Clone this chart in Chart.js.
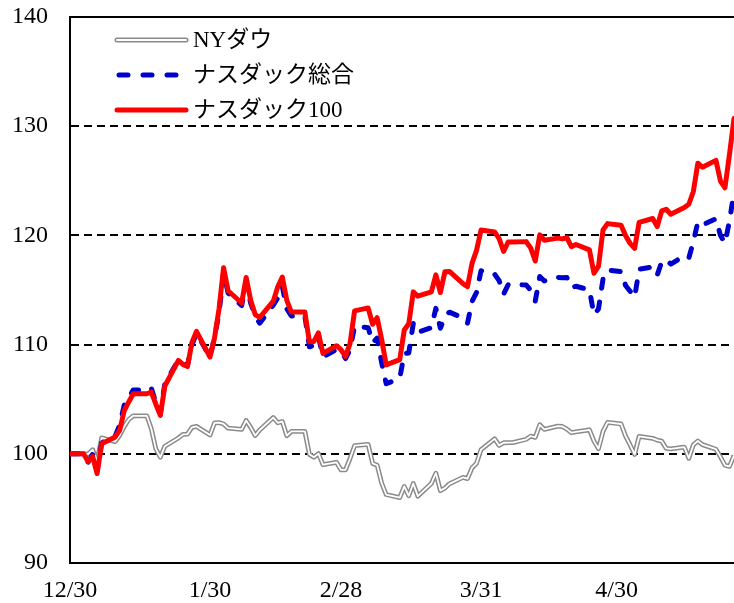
<!DOCTYPE html>
<html>
<head>
<meta charset="utf-8">
<script src="https://cdn.jsdelivr.net/npm/chart.js@4/dist/chart.umd.min.js"></script>
<style>
html,body{margin:0;padding:0;background:#fff;}
#wrap{width:734px;height:603px;position:relative;}
</style>
</head>
<body>
<div id="wrap"><canvas id="c" width="734" height="603"></canvas></div>
<script>
// ---- data ----
const seriesLabels = ["NYダウ", "ナスダック総合", "ナスダック100"];
const tickLabels = ["12/30", "1/30", "2/28", "3/31", "4/30"];
const yTicks = [90, 100, 110, 120, 130, 140];
const lastDate = "5/26";

const dates = ["12/30",
"1/2","1/3","1/4","1/5","1/6","1/9","1/10","1/11","1/12","1/13","1/16","1/17","1/18","1/19","1/20","1/23","1/24","1/25","1/26","1/27","1/30","1/31",
"2/1","2/2","2/3","2/6","2/7","2/8","2/9","2/10","2/13","2/14","2/15","2/16","2/17","2/20","2/21","2/22","2/23","2/24","2/27","2/28",
"3/1","3/2","3/3","3/6","3/7","3/8","3/9","3/10","3/13","3/14","3/15","3/16","3/17","3/20","3/21","3/22","3/23","3/24","3/27","3/28","3/29","3/30","3/31",
"4/3","4/4","4/5","4/6","4/7","4/10","4/11","4/12","4/13","4/14","4/17","4/18","4/19","4/20","4/21","4/24","4/25","4/26","4/27","4/28",
"5/1","5/2","5/3","5/4","5/5","5/8","5/9","5/10","5/11","5/12","5/15","5/16","5/17","5/18","5/19","5/22","5/23","5/24","5/25","5/26"];

const dow = [100,
100,99.97,100.37,99.34,101.46,101.12,101.68,102.49,103.14,103.48,103.48,102.30,100.45,99.69,100.69,101.45,101.77,101.80,102.42,102.51,101.72,102.83,
102.85,102.73,102.35,102.24,103.05,102.42,101.67,102.18,103.32,102.84,102.96,101.66,102.05,102.05,99.95,99.69,100.02,99.00,99.22,98.52,
98.54,99.57,100.74,100.86,99.12,98.95,97.31,96.27,95.99,97.01,96.16,97.28,96.12,97.28,98.23,96.63,96.86,97.25,97.84,97.73,98.70,99.13,100.38,
101.37,100.77,101.01,101.02,101.02,101.33,101.62,101.51,102.66,102.23,102.53,102.50,102.26,101.93,102.00,102.20,101.16,100.47,102.05,102.87,
102.73,101.62,100.81,99.94,101.59,101.42,101.25,101.16,100.49,100.46,100.61,99.59,100.82,101.17,100.84,100.42,99.72,98.95,98.85,99.84];

const nasdaqComp = [100,
100,99.24,99.93,98.46,100.98,101.61,102.64,104.44,105.11,105.85,105.85,106.01,104.69,103.69,106.44,108.58,108.29,108.09,109.99,111.04,108.86,110.68,
112.90,116.57,114.72,113.58,115.74,113.80,112.64,111.96,113.62,114.27,115.33,113.27,112.62,112.62,109.80,109.94,110.74,108.87,109.56,109.45,
108.72,109.52,111.68,111.55,110.17,110.60,108.33,106.42,106.90,109.19,109.24,111.95,111.12,111.55,113.32,111.50,112.62,112.97,112.44,111.94,113.95,114.78,116.77,
116.46,115.86,114.62,115.49,115.49,115.46,114.96,113.98,116.24,115.83,116.16,116.12,116.15,115.22,115.34,115.01,112.73,113.26,116.01,116.82,
116.68,115.42,114.89,114.33,116.90,117.11,116.37,117.58,117.79,117.37,118.14,117.93,119.43,121.23,120.94,121.53,120.01,119.28,121.32,123.97];

const nasdaq100 = [100,
100,99.29,99.77,98.19,100.92,101.54,102.16,103.94,104.75,105.50,105.50,105.65,104.54,103.52,106.21,108.55,108.18,107.99,110.20,111.21,108.86,110.62,
113.30,117.03,114.93,113.81,116.15,114.06,112.75,112.48,113.98,115.29,116.19,114.05,112.98,112.98,110.25,110.29,111.07,109.19,109.90,109.53,
108.92,110.11,113.09,113.36,111.86,112.46,110.47,108.14,108.63,111.34,111.91,114.83,114.44,114.83,116.39,114.77,116.67,116.70,115.59,115.31,117.44,118.63,120.49,
120.32,119.71,118.53,119.40,119.40,119.43,118.83,117.66,120.05,119.56,119.75,119.68,119.80,118.97,119.17,118.67,116.54,117.18,120.50,121.08,
120.92,119.98,119.27,118.81,121.20,121.55,120.80,122.25,122.39,121.94,122.55,122.85,124.02,126.61,126.24,126.87,124.98,124.36,127.42,130.70];

// ---- helpers ----
function dayOffset(md) {
  const [m, d] = md.split("/").map(Number);
  const year = (m === 12) ? 2022 : 2023;
  const base = Date.UTC(2022, 11, 30);
  return Math.round((Date.UTC(year, m - 1, d) - base) / 86400000);
}
function toPoints(arr) { return arr.map((v, i) => ({x: dayOffset(dates[i]), y: v})); }
const tickPos = tickLabels.map(dayOffset);

const FONT_FAMILY = '"Liberation Serif", "Noto Sans CJK JP", serif';
const COLORS = {dow: "#8a8a8a", comp: "#0000cc", ndx: "#ff0000"};

const framePlugin = {
  id: "frame",
  beforeDatasetsDraw(chart) {
    const {ctx, chartArea: a} = chart;
    ctx.save();
    ctx.strokeStyle = "#000";
    ctx.lineWidth = 2;
    ctx.beginPath();
    ctx.moveTo(a.left - 1, a.top);
    ctx.lineTo(a.right, a.top);
    ctx.stroke();
    ctx.restore();
  },
  afterDraw(chart) {
    const ctx = chart.ctx;
    const x1 = 117, x2 = 186, tx = 193;
    const ys = [40, 75, 110];
    ctx.save();
    ctx.lineCap = "round";
    // NY Dow double line
    ctx.strokeStyle = COLORS.dow; ctx.lineWidth = 5;
    ctx.beginPath(); ctx.moveTo(x1, ys[0]); ctx.lineTo(x2, ys[0]); ctx.stroke();
    ctx.strokeStyle = "#fff"; ctx.lineWidth = 2;
    ctx.beginPath(); ctx.moveTo(x1, ys[0]); ctx.lineTo(x2, ys[0]); ctx.stroke();
    // composite dashed
    ctx.strokeStyle = COLORS.comp; ctx.lineWidth = 5; ctx.setLineDash([9, 15]);
    ctx.beginPath(); ctx.moveTo(x1 + 2, ys[1]); ctx.lineTo(x2, ys[1]); ctx.stroke();
    ctx.setLineDash([]);
    // ndx solid
    ctx.strokeStyle = COLORS.ndx; ctx.lineWidth = 5;
    ctx.beginPath(); ctx.moveTo(x1, ys[2]); ctx.lineTo(x2, ys[2]); ctx.stroke();
    // texts
    ctx.fillStyle = "#000";
    ctx.font = "23px " + FONT_FAMILY;
    ctx.textBaseline = "middle";
    ctx.textAlign = "left";
    seriesLabels.forEach((t, i) => ctx.fillText(t, tx, ys[i] + 1));
    ctx.restore();
  }
};

new Chart(document.getElementById("c"), {
  type: "line",
  data: {
    datasets: [
      {label: seriesLabels[2], data: toPoints(nasdaq100), borderColor: COLORS.ndx, borderWidth: 5,
       pointRadius: 0, tension: 0, borderJoinStyle: "round", borderCapStyle: "round", order: 0},
      {label: seriesLabels[1], data: toPoints(nasdaqComp), borderColor: COLORS.comp, borderWidth: 5,
       borderDash: [9, 14], borderCapStyle: "round", borderJoinStyle: "round",
       pointRadius: 0, tension: 0, order: 1},
      {label: seriesLabels[0] + " inner", data: toPoints(dow), borderColor: "#ffffff", borderWidth: 1.8,
       pointRadius: 0, tension: 0, borderJoinStyle: "round", order: 2},
      {label: seriesLabels[0], data: toPoints(dow), borderColor: COLORS.dow, borderWidth: 4.8,
       pointRadius: 0, tension: 0, borderJoinStyle: "round", order: 3}
    ]
  },
  options: {
    responsive: false,
    animation: false,
    devicePixelRatio: 1,
    layout: {padding: {top: 0, right: 0, left: 0, bottom: 0}},
    plugins: {legend: {display: false}, tooltip: {enabled: false}},
    scales: {
      x: {
        type: "linear",
        min: 0,
        max: dayOffset(lastDate),
        afterBuildTicks: (s) => { s.ticks = tickPos.map(v => ({value: v})); },
        afterFit: (s) => { s.height = 40; },
        grid: {display: false, drawTicks: false},
        border: {display: true, color: "#000", width: 2},
        ticks: {
          autoSkip: false, maxRotation: 0, padding: 13, color: "#000",
          font: {family: FONT_FAMILY, size: 24},
          callback: (v) => { const i = tickPos.indexOf(v); return i >= 0 ? tickLabels[i] : ""; }
        }
      },
      y: {
        min: 90,
        max: 140,
        afterBuildTicks: (s) => { s.ticks = yTicks.map(v => ({value: v})); },
        afterFit: (s) => { s.width = 70; s.paddingTop = 17; s.paddingBottom = 0; },
        grid: {
          drawTicks: false,
          lineWidth: 2,
          color: (c) => (c.tick && (c.tick.value === 90 || c.tick.value === 140)) ? "rgba(0,0,0,0)" : "#000"
        },
        border: {display: true, color: "#000", width: 2, dash: [8, 5]},
        ticks: {
          padding: 22, color: "#000",
          font: {family: FONT_FAMILY, size: 24}
        }
      }
    }
  },
  plugins: [framePlugin]
});
</script>
</body>
</html>
